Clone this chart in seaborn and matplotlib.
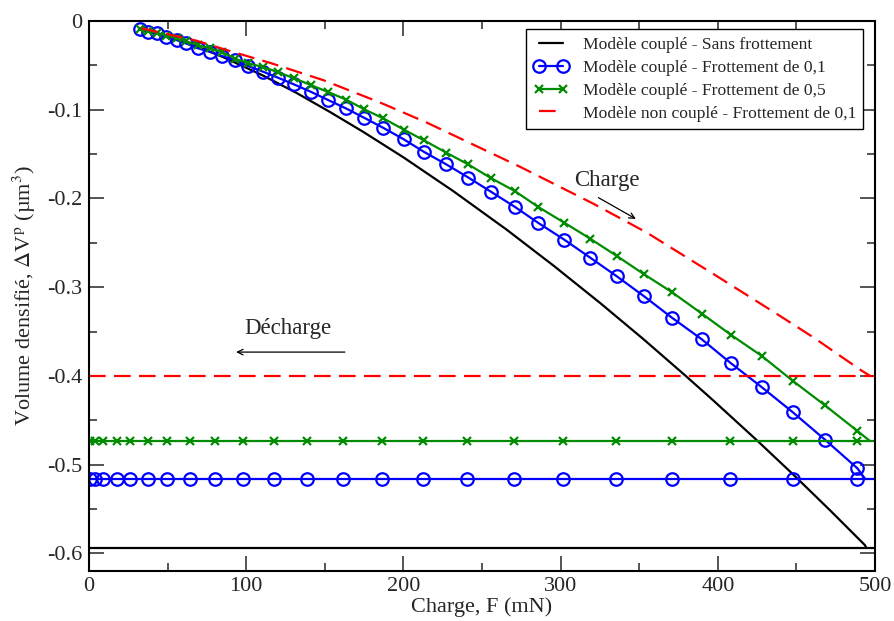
import numpy as np
import pandas as pd
import seaborn as sns
import matplotlib.pyplot as plt
from matplotlib.ticker import MultipleLocator

# loading branch, markers at the same loads for both frictions
blue_F = [32.4, 37.7, 43.1, 49.0, 55.8, 61.7, 69.5, 77.0, 84.8, 92.9, 101.3, 110.9, 120.4,
          130.4, 141.2, 152.2, 163.5, 175.1, 187.2, 200.4, 213.1, 227.1, 241.3, 255.5, 271.0,
          285.8, 302.2, 318.7, 335.7, 353.1, 370.7, 389.8, 408.2, 427.9, 447.6, 468.2, 488.7, 493.6]
blue_V = [-0.0094, -0.0121, -0.0139, -0.0177, -0.0214, -0.0252, -0.0308, -0.0346, -0.0395,
          -0.0440, -0.0508, -0.0572, -0.0640, -0.0714, -0.0798, -0.0891, -0.0985, -0.1091,
          -0.1204, -0.1335, -0.1475, -0.1614, -0.1764, -0.1922, -0.2096, -0.2276, -0.2463,
          -0.2666, -0.2877, -0.3103, -0.3343, -0.3588, -0.3856, -0.4127, -0.4409, -0.4720,
          -0.5041, -0.5160]

green_F = blue_F[:-1] + [496.8]
green_V = [-0.0090, -0.0113, -0.0130, -0.0163, -0.0195, -0.0228, -0.0272, -0.0308, -0.0350,
           -0.0425, -0.0475, -0.0520, -0.0577, -0.0645, -0.0722, -0.0801, -0.0885, -0.0995,
           -0.1097, -0.1225, -0.1345, -0.1482, -0.1617, -0.1768, -0.1918, -0.2096, -0.2272,
           -0.2452, -0.2648, -0.2855, -0.3055, -0.3298, -0.3536, -0.3775, -0.4055, -0.4333,
           -0.4620, -0.4735]

black_F = [32.4, 50.0, 68.5, 85.4, 110.9, 132.1, 153.3, 174.5, 199.9, 231.7, 265.7, 295.4,
           325.1, 352.6, 379.1, 397.1, 424.7, 448.0, 471.4, 493.6, 494.5]
black_V = [-0.0090, -0.0175, -0.0286, -0.0407, -0.0616, -0.0811, -0.1025, -0.1250, -0.1535,
           -0.1917, -0.2352, -0.2756, -0.3178, -0.3585, -0.3993, -0.4277, -0.4724, -0.5113,
           -0.5516, -0.5909, -0.5940]

red_F = [33.5, 68.5, 87.6, 115.1, 149.0, 185.1, 214.8, 274.2, 320.8, 354.8, 399.3, 439.6,
         460.7, 490.5, 496.8]
red_V = [-0.0082, -0.0222, -0.0327, -0.0471, -0.0666, -0.0918, -0.1144, -0.1643, -0.2059,
         -0.2385, -0.2875, -0.3325, -0.3565, -0.3930, -0.4000]

# unloading branch (horizontal)
unload_F = [500, 488.7, 447.6, 407.8, 370.7, 335.2, 301.7, 270.4, 240.6, 212.7, 186.5, 161.8,
            138.9, 117.7, 98.2, 80.2, 64.2, 49.6, 37.7, 26.1, 17.6, 9.1, 3.8, 0.6, 0]
blue_unload = -0.516
green_unload = -0.4735
black_unload = -0.594
red_unload = -0.400

labels = ["Modèle couplé - Sans frottement",
          "Modèle couplé - Frottement de 0,1",
          "Modèle couplé - Frottement de 0,5",
          "Modèle non couplé - Frottement de 0,1"]

y_ticks = [-0.6, -0.5, -0.4, -0.3, -0.2, -0.1, 0]
y_ticklabels = ["-0.6", "-0.5", "-0.4", "-0.3", "-0.2", "-0.1", "0"]

sns.set_style("ticks")
plt.rcParams["font.family"] = "serif"
plt.rcParams["font.serif"] = ["Liberation Serif", "DejaVu Serif"]
plt.rcParams["mathtext.fontset"] = "stix"
plt.rcParams["axes.unicode_minus"] = False

BLUE = "#0000ff"
GREEN = "#008b00"
RED = "#ff0000"
DASH = (7.5, 3.75)

fig = plt.figure(figsize=(8.95, 6.21), dpi=100)
ax = fig.add_axes([0.0994, 0.0805, 0.8783, 0.8856])

mk = list(range(1, len(unload_F) - 1))

# charge
sns.lineplot(x=black_F, y=black_V, ax=ax, color="black", lw=1.6, label=labels[0])
sns.lineplot(x=blue_F, y=blue_V, ax=ax, color=BLUE, lw=1.6, marker="o", ms=9, mfc="none",
             mec=BLUE, mew=1.6, markevery=list(range(len(blue_F) - 1)), label=labels[1])
sns.lineplot(x=green_F, y=green_V, ax=ax, color=GREEN, lw=1.6, marker="x", ms=5.5,
             mec=GREEN, mew=1.6, markevery=list(range(len(green_F) - 1)), label=labels[2])
sns.lineplot(x=red_F, y=red_V, ax=ax, color=RED, lw=1.6, label=labels[3])
ax.lines[-1].set_dashes(DASH)

# decharge
n = len(unload_F)
sns.lineplot(x=unload_F, y=[black_unload] * n, ax=ax, color="black", lw=1.6)
sns.lineplot(x=unload_F, y=[blue_unload] * n, ax=ax, color=BLUE, lw=1.6, marker="o", ms=9,
             mfc="none", mec=BLUE, mew=1.6, markevery=mk)
sns.lineplot(x=unload_F, y=[green_unload] * n, ax=ax, color=GREEN, lw=1.6, marker="x",
             ms=5.5, mec=GREEN, mew=1.6, markevery=mk)
sns.lineplot(x=unload_F, y=[red_unload] * n, ax=ax, color=RED, lw=1.6)
ax.lines[-1].set_dashes(DASH)

ax.set_xlim(0, 500)
ax.set_ylim(-0.62, 0)
ax.xaxis.set_major_locator(MultipleLocator(100))
ax.xaxis.set_minor_locator(MultipleLocator(50))
ax.set_yticks(y_ticks)
ax.set_yticklabels(y_ticklabels)
ax.yaxis.set_minor_locator(MultipleLocator(0.05))
ax.tick_params(which="both", direction="in", top=True, right=True, labelsize=16, width=1.1)
ax.tick_params(which="major", length=11, pad=4.5)
ax.tick_params(which="minor", length=5.5)
for s in ax.spines.values():
    s.set_linewidth(1.5)
    s.set_color("black")

ax.set_xlabel("Charge, F (mN)", fontsize=16, labelpad=1)
ax.set_ylabel(r"Volume densifié, $\Delta$V$^{\mathrm{p}}$ (µm$^{3}$)", fontsize=16, labelpad=7)

ax.annotate("", xy=(349.4, -0.2246), xytext=(322.5, -0.1975),
            arrowprops=dict(arrowstyle="->", color="black", lw=0.9))
ax.text(329.5, -0.1795, "Charge", fontsize=16.5, ha="center", va="center")
ax.annotate("", xy=(91.8, -0.3732), xytext=(164.5, -0.3732),
            arrowprops=dict(arrowstyle="->", color="black", lw=0.9))
ax.text(126.8, -0.3468, "Décharge", fontsize=16.5, ha="center", va="center")

leg = ax.legend(loc="upper right", bbox_to_anchor=(0.985, 0.985), borderaxespad=0,
                fontsize=12.6, frameon=True, fancybox=False, framealpha=1, edgecolor="black",
                numpoints=2, handlelength=2.0, labelspacing=0.38, borderpad=0.42)
leg.get_frame().set_linewidth(1.0)

fig.savefig("out.png", dpi=100)
